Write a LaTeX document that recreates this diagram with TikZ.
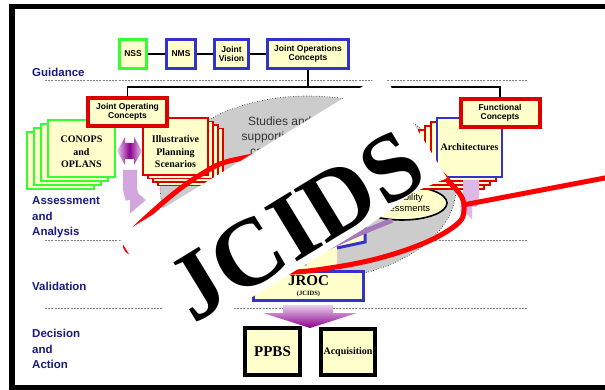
\documentclass[tikz,border=0pt]{standalone}
\usepackage{fontspec}
\setmainfont{Liberation Serif}
\setsansfont{Liberation Sans}
\usetikzlibrary{shapes.geometric,arrows.meta,positioning}
\definecolor{boxyellow}{HTML}{FFFFCC}
\definecolor{jgreen}{HTML}{33FF33}
\definecolor{jblue}{HTML}{3333CC}
\definecolor{jred}{HTML}{DD0000}
\definecolor{navy}{HTML}{1A1A80}
\definecolor{cloudgray}{HTML}{CCCCCC}
\definecolor{lavender}{HTML}{D2A6DE}
\definecolor{paleviolet}{HTML}{E8CCEE}
\definecolor{dpurple}{HTML}{8B008B}
\definecolor{swooshviolet}{HTML}{A878BC}
\begin{document}
\begin{tikzpicture}[x=1pt,y=-1pt,
     % define styles
     topbox/.style={
         draw, fill=boxyellow, line width=3pt, inner sep=0pt, align=center,
         font=\sffamily\bfseries\fontsize{8.5}{9.5}\selectfont
     },
     conbox/.style={
         topbox, draw=jred, line width=4pt,
         minimum width=79pt, minimum height=28pt
     },
     outbox/.style={
         draw, fill=boxyellow, line width=4pt, inner sep=0pt,
         font=\rmfamily\bfseries
     },
     sheet/.style={draw, fill=boxyellow, line width=1.5pt},
     sheettext/.style={
         align=center, inner sep=0pt,
         font=\rmfamily\bfseries\fontsize{10}{12.5}\selectfont
     },
     phase/.style={
         anchor=west, align=left, inner sep=0pt, text=navy,
         font=\sffamily\bfseries\fontsize{11.5}{15.5}\selectfont
     },
     divider/.style={draw=gray, dash pattern=on 2pt off 1.2pt, line width=0.7pt},
     link/.style={line width=1.5pt},
     band/.style={draw=lavender, line width=14pt},
     lasso/.style={draw=red, line width=5pt},
     >=latex
]
\useasboundingbox (0,0) rectangle (605,390);
% outer frame
\draw[line width=5.5pt] (12,6.5) rectangle (620,388);

% phase labels and dividers
\node[phase] (guid) at (32,72) {Guidance};
\node[phase] (assess) at (32,217.5) {Assessment\\and\\Analysis};
\node[phase] (valid) at (32,286) {Validation};
\node[phase] (decide) at (32,349) {Decision\\and\\Action};
\draw[divider] (45,80) -- (527,80);
\draw[divider] (45,240) -- (527,240);
\draw[divider] (45,308) -- (527,308);

% guidance boxes
\node[topbox, draw=jgreen, minimum width=27pt, minimum height=29pt] (nss) at (133,54) {NSS};
\node[topbox, draw=jblue, minimum width=29pt, minimum height=29pt] (nms) at (181,54) {NMS};
\node[topbox, draw=jblue, minimum width=34pt, minimum height=29pt] (jv) at (231.5,54) {Joint\\Vision};
\node[topbox, draw=jblue, minimum width=81pt, minimum height=29pt] (joc) at (308,54) {Joint Operations\\Concepts};
\draw[link] (nss) -- (nms);
\draw[link] (nms) -- (jv);
\draw[link] (jv) -- (joc);

% studies cloud
\draw[fill=cloudgray, dotted, line width=0.6pt] (308,188) ellipse [x radius=148pt, y radius=92pt];
\node[align=center, text=black!80, inner sep=0pt,
      font=\sffamily\fontsize{12}{15}\selectfont] (studies) at (279.7,137) {Studies and\\supporting the\\capabilities};

% JROC
\fill[boxyellow] (252,302) -- (252,215) -- (365,215) -- (365,242) -- (337,248)
    -- (337,270) -- (365,270) -- (365,302) -- cycle;
\draw[jblue, line width=3pt] (365,215) -- (365,242) -- (337,248);
\node[draw=jblue, fill=boxyellow, line width=3pt, minimum width=110pt, minimum height=29pt,
      inner sep=0pt, align=center, font=\rmfamily\bfseries] (jroc) at (308.5,286)
      {\fontsize{15}{15}\selectfont JROC\\[-2pt]\fontsize{6.5}{7}\selectfont (JCIDS)};

% capability assessments
\node[ellipse, draw, fill=boxyellow, line width=1.6pt, minimum width=90pt, minimum height=34pt,
      inner sep=0pt, align=center, font=\sffamily\fontsize{9.5}{11}\selectfont] (capa) at (402,203)
      {Capability\\Assessments};
\coordinate (swooshend) at (296,264);
\draw[draw=swooshviolet, line width=5pt, -{Triangle[length=9pt,width=13pt]}]
    (capa.240) .. controls (352,236) and (322,250) .. (swooshend);

% document stacks
\foreach \k in {3,2,1,0}
    \draw[sheet, draw=jgreen] ({48-7*\k},{120+4*\k}) rectangle ++(67,57);
\foreach \k in {3,2,1,0}
    \draw[sheet, draw=jred] ({143+5*\k},{118+3.5*\k}) rectangle ++(65,57);
\foreach \k in {3,2,1}
    \draw[sheet, draw=jred] ({437-6*\k},{118+4*\k}) rectangle ++(65,59);
\draw[sheet, draw=jblue] (437,118) rectangle ++(65,59);
\node[sheettext] (conops) at (81.5,152) {CONOPS\\and\\OPLANS};
\node[sheettext] (ips) at (175.5,152) {Illustrative\\Planning\\Scenarios};
\node[sheettext] (arch) at (469.5,147) {Architectures};

% concept boxes
\node[conbox] (jopc) at (127.5,112) {Joint Operating\\Concepts};
\node[conbox] (fc) at (500,113) {Functional\\Concepts};
\coordinate (bus) at (308,87);
\draw[link] (joc.south) -- (bus);
\draw[link] (jopc.north) |- (bus) -| (fc.north);

% flow arrows
\shade[left color=paleviolet, right color=paleviolet, middle color=dpurple]
    (117,151) -- (125,137) -- (125,143) -- (134,143) -- (134,137) -- (142,151)
    -- (134,165) -- (134,159) -- (125,159) -- (125,165) -- cycle;
\draw[band, -{Triangle[length=16pt,width=26pt]}]
    (130,170) -- (130,186) .. controls (130,196) and (135,200) .. (146,200);
\draw[band, line width=16pt, draw=lavender!80, -{Triangle[length=12pt,width=24pt]}]
    (471,180) -- (471,195) .. controls (471,204) and (466,207) .. (460,207);

% decision boxes
\shade[top color=paleviolet, bottom color=dpurple]
    (283,305) -- (333,305) -- (333,313) -- (357,313) -- (310,328) -- (263,313) -- (283,313) -- cycle;
\node[outbox, minimum width=55pt, minimum height=47pt, font=\rmfamily\bfseries\fontsize{15}{15}\selectfont] (ppbs) at (272.5,351.5) {PPBS};
\node[outbox, minimum width=54pt, minimum height=46pt, font=\rmfamily\bfseries\fontsize{10}{10}\selectfont] (acq) at (348,352) {Acquisition};

% lasso
\draw[lasso] plot[smooth cycle, tension=0.7] coordinates {
    (126,242) (150,214) (200,175) (243,158) (330,148) (420,163) (452,185)
    (464,207) (452,228) (400,252) (330,268) (270,272) (190,265) (140,256)};
\coordinate (tailend) at (610,177);
\draw[lasso] (463,205) -- (tailend);

% JCIDS banner
\fill[white] (118,236) -- (383,74) -- (447,178) -- (412,193) -- (388,212) -- (365,228) -- (182,340) -- cycle;
\node[rotate=31.4, inner sep=0pt, font=\rmfamily\bfseries\fontsize{96}{96}\selectfont] (jcids) at (296,226) {JCIDS};
\end{tikzpicture}
\end{document}
